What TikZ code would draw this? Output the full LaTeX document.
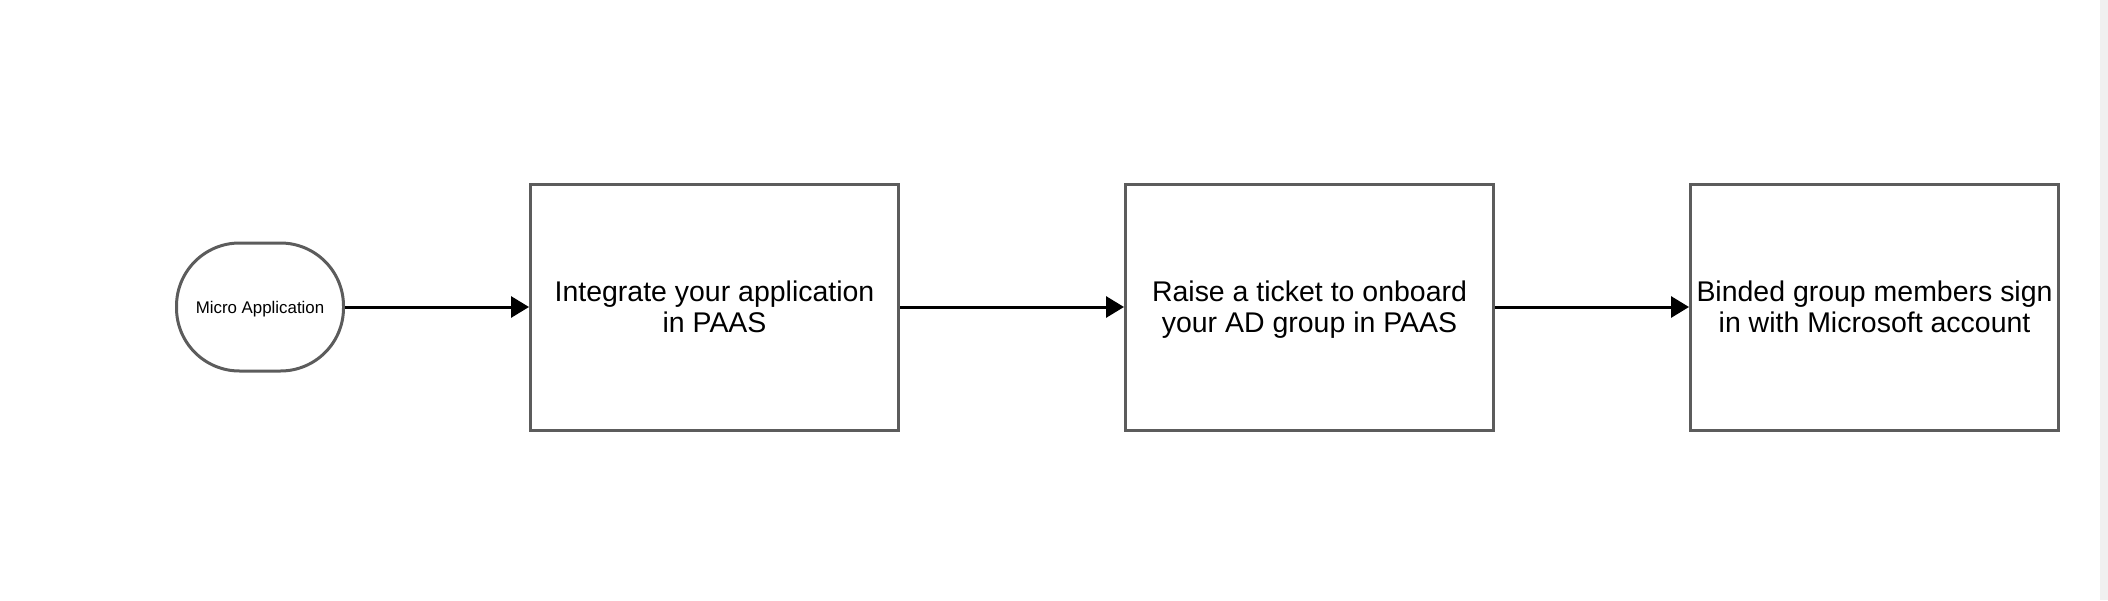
\documentclass[tikz,border=0pt]{standalone}
\usepackage{fontspec}
\setmainfont{Liberation Sans}
\usetikzlibrary{arrows.meta, positioning}

\definecolor{edgegray}{HTML}{5C5C5C}
\definecolor{stripgray}{HTML}{F0F0F0}

\begin{document}
\begin{tikzpicture}[
    node distance=1.85cm,
    box/.style={
        rectangle, draw=edgegray, line width=0.03cm,
        minimum width=3.68cm, minimum height=2.46cm, align=center,
        inner xsep=0.5pt, text depth=0pt,
        font={\fontsize{8.1}{8.8}\selectfont}
    },
    terminal/.style={
        rectangle, draw=edgegray, line width=0.03cm, rounded corners=0.63cm,
        minimum width=1.67cm, minimum height=1.28cm, align=center,
        text height=3.44pt, text depth=0pt,
        font={\fontsize{4.8}{5.5}\selectfont}
    },
    >={Triangle[length=0.18cm, width=0.21cm]},
    every path/.style={line width=0.03cm}
]

\useasboundingbox (0,0) rectangle (21.08,6);
\fill[stripgray] (21.00,0) rectangle (21.08,6);

\node[terminal] (micro) at (2.60,2.93) {Micro Application};
\node[box, right=1.84cm of micro] (integrate) {Integrate your application\\in PAAS};
\node[box, right=2.24cm of integrate] (ticket) {Raise a ticket to onboard\\your AD group in PAAS};
\node[box, right=1.94cm of ticket] (signin) {Binded group members sign\\in with Microsoft account};

\draw[->] (micro) -- (integrate);
\draw[->] (integrate) -- (ticket);
\draw[->] (ticket) -- (signin);

\end{tikzpicture}
\end{document}
